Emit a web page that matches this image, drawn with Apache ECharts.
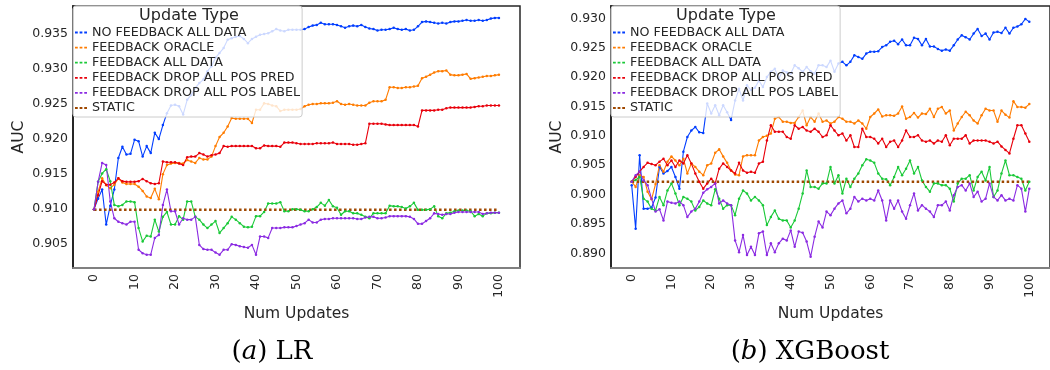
<!DOCTYPE html>
<html>
<head>
<meta charset="utf-8">
<script src="https://cdn.jsdelivr.net/npm/echarts@6/dist/echarts.min.js"></script>
<style>
  html, body { margin: 0; padding: 0; background: #fff; }
  #chart { width: 1050px; height: 370px; }
</style>
</head>
<body>
<div id="chart"></div>
<script>
// x positions: update number 0..100
const numUpdates = Array.from({ length: 101 }, (_, i) => i)
const xTicks = [0, 10, 20, 30, 40, 50, 60, 70, 80, 90, 100]
const lrTicks = [0.905, 0.910, 0.915, 0.920, 0.925, 0.930, 0.935]
const xgbTicks = [0.890, 0.895, 0.900, 0.905, 0.910, 0.915, 0.920, 0.925, 0.930]

const seriesNames = ['NO FEEDBACK ALL DATA', 'FEEDBACK ORACLE', 'FEEDBACK ALL DATA',
  'FEEDBACK DROP ALL POS PRED', 'FEEDBACK DROP ALL POS LABEL', 'STATIC']

// (a) LR
const lrNoFeedback = [0.9100, 0.9115, 0.9128, 0.9078, 0.9105, 0.9128, 0.9173, 0.9189, 0.9178, 0.9179,
  0.9199, 0.9197, 0.9175, 0.9190, 0.9180, 0.9209, 0.9200, 0.9220, 0.9237, 0.9248,
  0.9249, 0.9247, 0.9235, 0.9256, 0.9263, 0.9273, 0.9280, 0.9285, 0.9297, 0.9304,
  0.9316, 0.9323, 0.9330, 0.9342, 0.9344, 0.9346, 0.9347, 0.9343, 0.9337, 0.9343,
  0.9346, 0.9349, 0.9350, 0.9351, 0.9354, 0.9357, 0.9355, 0.9354, 0.9356, 0.9356,
  0.9356, 0.9356, 0.9357, 0.9360, 0.9362, 0.9363, 0.9366, 0.9364, 0.9364, 0.9364,
  0.9363, 0.9361, 0.9359, 0.9361, 0.9362, 0.9361, 0.9363, 0.9360, 0.9358, 0.9357,
  0.9355, 0.9356, 0.9356, 0.9357, 0.9359, 0.9357, 0.9356, 0.9357, 0.9355, 0.9356,
  0.9361, 0.9367, 0.9368, 0.9367, 0.9366, 0.9365, 0.9366, 0.9365, 0.9367, 0.9368,
  0.9368, 0.9369, 0.9370, 0.9369, 0.9369, 0.9370, 0.9369, 0.9370, 0.9372, 0.9373, 0.9373]
const lrOracle = [0.9100, 0.9125, 0.9144, 0.9134, 0.9130, 0.9135, 0.9144, 0.9138, 0.9136, 0.9136,
  0.9136, 0.9132, 0.9126, 0.9118, 0.9116, 0.9129, 0.9114, 0.9150, 0.9163, 0.9165,
  0.9166, 0.9166, 0.9165, 0.9170, 0.9168, 0.9166, 0.9173, 0.9171, 0.9171, 0.9175,
  0.9190, 0.9203, 0.9209, 0.9218, 0.9230, 0.9229, 0.9229, 0.9229, 0.9229, 0.9223,
  0.9242, 0.9242, 0.9251, 0.9250, 0.9248, 0.9247, 0.9240, 0.9242, 0.9242, 0.9242,
  0.9242, 0.9243, 0.9247, 0.9249, 0.9250, 0.9250, 0.9251, 0.9251, 0.9251, 0.9252,
  0.9254, 0.9250, 0.9249, 0.9250, 0.9249, 0.9248, 0.9248, 0.9248, 0.9252, 0.9254,
  0.9254, 0.9254, 0.9256, 0.9274, 0.9274, 0.9273, 0.9273, 0.9274, 0.9274, 0.9275,
  0.9276, 0.9287, 0.9289, 0.9292, 0.9295, 0.9297, 0.9297, 0.9298, 0.9292, 0.9291,
  0.9291, 0.9292, 0.9293, 0.9286, 0.9287, 0.9288, 0.9289, 0.9290, 0.9290, 0.9291, 0.9292]
const lrAllData = [0.9100, 0.9139, 0.9151, 0.9157, 0.9140, 0.9106, 0.9104, 0.9106, 0.9111, 0.9111,
  0.9110, 0.9073, 0.9054, 0.9062, 0.9061, 0.9085, 0.9068, 0.9089, 0.9096, 0.9078,
  0.9078, 0.9090, 0.9085, 0.9111, 0.9111, 0.9089, 0.9085, 0.9078, 0.9073, 0.9078,
  0.9083, 0.9066, 0.9073, 0.9080, 0.9089, 0.9085, 0.9080, 0.9075, 0.9074, 0.9075,
  0.9090, 0.9090, 0.9096, 0.9108, 0.9108, 0.9108, 0.9110, 0.9097, 0.9097, 0.9100,
  0.9100, 0.9099, 0.9097, 0.9097, 0.9100, 0.9103, 0.9109, 0.9105, 0.9113, 0.9104,
  0.9102, 0.9092, 0.9097, 0.9097, 0.9094, 0.9094, 0.9092, 0.9089, 0.9087, 0.9094,
  0.9094, 0.9094, 0.9094, 0.9105, 0.9104, 0.9104, 0.9103, 0.9101, 0.9104, 0.9109,
  0.9099, 0.9099, 0.9099, 0.9100, 0.9104, 0.9090, 0.9087, 0.9094, 0.9095, 0.9097,
  0.9098, 0.9098, 0.9098, 0.9097, 0.9090, 0.9093, 0.9090, 0.9094, 0.9094, 0.9095, 0.9095]
const lrDropPred = [0.9100, 0.9120, 0.9140, 0.9135, 0.9135, 0.9138, 0.9144, 0.9140, 0.9139, 0.9139,
  0.9139, 0.9140, 0.9143, 0.9140, 0.9137, 0.9136, 0.9137, 0.9168, 0.9167, 0.9167,
  0.9167, 0.9165, 0.9163, 0.9174, 0.9175, 0.9175, 0.9180, 0.9178, 0.9175, 0.9177,
  0.9178, 0.9180, 0.9190, 0.9189, 0.9190, 0.9190, 0.9190, 0.9190, 0.9190, 0.9190,
  0.9187, 0.9187, 0.9191, 0.9190, 0.9190, 0.9190, 0.9189, 0.9195, 0.9195, 0.9195,
  0.9194, 0.9193, 0.9193, 0.9193, 0.9193, 0.9194, 0.9194, 0.9194, 0.9194, 0.9195,
  0.9193, 0.9193, 0.9193, 0.9193, 0.9192, 0.9192, 0.9193, 0.9194, 0.9222, 0.9222,
  0.9222, 0.9222, 0.9221, 0.9220, 0.9220, 0.9220, 0.9220, 0.9220, 0.9220, 0.9220,
  0.9218, 0.9241, 0.9241, 0.9241, 0.9241, 0.9242, 0.9242, 0.9244, 0.9245, 0.9245,
  0.9245, 0.9245, 0.9245, 0.9245, 0.9246, 0.9247, 0.9247, 0.9248, 0.9248, 0.9248, 0.9248]
const lrDropLabel = [0.9100, 0.9139, 0.9166, 0.9163, 0.9111, 0.9087, 0.9082, 0.9080, 0.9078, 0.9082,
  0.9082, 0.9042, 0.9037, 0.9035, 0.9035, 0.9059, 0.9063, 0.9106, 0.9128, 0.9097,
  0.9097, 0.9078, 0.9087, 0.9085, 0.9085, 0.9089, 0.9049, 0.9043, 0.9042, 0.9042,
  0.9038, 0.9035, 0.9042, 0.9042, 0.9050, 0.9049, 0.9047, 0.9046, 0.9045, 0.9049,
  0.9035, 0.9061, 0.9061, 0.9059, 0.9073, 0.9073, 0.9073, 0.9074, 0.9074, 0.9074,
  0.9076, 0.9078, 0.9080, 0.9085, 0.9081, 0.9081, 0.9085, 0.9086, 0.9086, 0.9087,
  0.9087, 0.9087, 0.9087, 0.9087, 0.9087, 0.9086, 0.9086, 0.9088, 0.9089, 0.9089,
  0.9087, 0.9087, 0.9088, 0.9090, 0.9090, 0.9090, 0.9090, 0.9090, 0.9089, 0.9086,
  0.9079, 0.9079, 0.9083, 0.9087, 0.9094, 0.9093, 0.9092, 0.9093, 0.9093, 0.9095,
  0.9096, 0.9096, 0.9096, 0.9096, 0.9096, 0.9096, 0.9093, 0.9094, 0.9095, 0.9095, 0.9095]
const lrStatic = 0.9099

// (b) XGBoost
const xgbNoFeedback = [0.9016, 0.8942, 0.9067, 0.8976, 0.8976, 0.8978, 0.8995, 0.9047, 0.9036, 0.9040,
  0.9047, 0.9030, 0.9010, 0.9073, 0.9098, 0.9109, 0.9115, 0.9106, 0.9105, 0.9155,
  0.9138, 0.9152, 0.9135, 0.9152, 0.9140, 0.9127, 0.9160, 0.9180, 0.9160, 0.9186,
  0.9178, 0.9182, 0.9194, 0.9183, 0.9200, 0.9209, 0.9214, 0.9197, 0.9211, 0.9208,
  0.9206, 0.9220, 0.9215, 0.9209, 0.9217, 0.9210, 0.9206, 0.9220, 0.9220, 0.9217,
  0.9228, 0.9209, 0.9223, 0.9226, 0.9220, 0.9226, 0.9237, 0.9234, 0.9231, 0.9240,
  0.9243, 0.9243, 0.9244, 0.9251, 0.9254, 0.9260, 0.9262, 0.9256, 0.9264, 0.9254,
  0.9254, 0.9267, 0.9265, 0.9254, 0.9265, 0.9252, 0.9252, 0.9248, 0.9245, 0.9247,
  0.9245, 0.9254, 0.9264, 0.9271, 0.9268, 0.9264, 0.9274, 0.9282, 0.9270, 0.9274,
  0.9264, 0.9276, 0.9277, 0.9275, 0.9284, 0.9274, 0.9284, 0.9286, 0.9290, 0.9299, 0.9294]
const xgbOracle = [0.9022, 0.9013, 0.9033, 0.9030, 0.9005, 0.8992, 0.9018, 0.9050, 0.9039, 0.9056,
  0.9065, 0.9058, 0.9050, 0.9061, 0.9036, 0.9053, 0.9047, 0.9039, 0.9033, 0.9050,
  0.9053, 0.9071, 0.9077, 0.9065, 0.9054, 0.9041, 0.9034, 0.9033, 0.9065, 0.9067,
  0.9067, 0.9067, 0.9092, 0.9098, 0.9100, 0.9104, 0.9129, 0.9132, 0.9124, 0.9124,
  0.9122, 0.9122, 0.9132, 0.9143, 0.9118, 0.9132, 0.9124, 0.9138, 0.9124, 0.9126,
  0.9121, 0.9124, 0.9132, 0.9129, 0.9124, 0.9124, 0.9121, 0.9126, 0.9121, 0.9112,
  0.9132, 0.9138, 0.9145, 0.9133, 0.9135, 0.9135, 0.9134, 0.9138, 0.9150, 0.9129,
  0.9132, 0.9139, 0.9131, 0.9138, 0.9137, 0.9146, 0.9132, 0.9146, 0.9149, 0.9138,
  0.9143, 0.9109, 0.9121, 0.9132, 0.9141, 0.9135, 0.9126, 0.9121, 0.9135, 0.9146,
  0.9143, 0.9143, 0.9124, 0.9143, 0.9136, 0.9131, 0.9159, 0.9149, 0.9149, 0.9148, 0.9154]
const xgbAllData = [0.9022, 0.9025, 0.9030, 0.8993, 0.8988, 0.8976, 0.8973, 0.8996, 0.8982, 0.9007,
  0.9019, 0.9002, 0.8982, 0.8996, 0.8993, 0.8988, 0.8973, 0.8979, 0.8990, 0.8985,
  0.8982, 0.9009, 0.8993, 0.8976, 0.8982, 0.8982, 0.8965, 0.8993, 0.9007, 0.9002,
  0.8990, 0.8996, 0.8990, 0.8982, 0.8948, 0.8962, 0.8973, 0.8959, 0.8956, 0.8956,
  0.8944, 0.8956, 0.8976, 0.9002, 0.9041, 0.9013, 0.9013, 0.9010, 0.9019, 0.9019,
  0.9047, 0.9019, 0.9033, 0.9002, 0.9027, 0.9013, 0.9027, 0.9036, 0.9050, 0.9060,
  0.9058, 0.9054, 0.9036, 0.9027, 0.9026, 0.9016, 0.9030, 0.9047, 0.9033, 0.9044,
  0.9058, 0.9036, 0.9047, 0.9024, 0.9013, 0.9005, 0.9019, 0.9019, 0.9016, 0.9016,
  0.9010, 0.8988, 0.9019, 0.9027, 0.9027, 0.9033, 0.9007, 0.9030, 0.9039, 0.9024,
  0.9047, 0.8996, 0.9007, 0.9036, 0.9058, 0.9033, 0.9033, 0.9030, 0.9027, 0.9007, 0.9022]
const xgbDropPred = [0.9022, 0.9030, 0.9039, 0.9047, 0.9054, 0.9052, 0.9050, 0.9056, 0.9061, 0.9050,
  0.9058, 0.9047, 0.9058, 0.9053, 0.9067, 0.9053, 0.9036, 0.9022, 0.9010, 0.9019,
  0.9027, 0.9019, 0.9044, 0.9053, 0.9047, 0.9041, 0.9036, 0.9054, 0.9041, 0.9037,
  0.9039, 0.9037, 0.9053, 0.9056, 0.9092, 0.9118, 0.9107, 0.9107, 0.9107, 0.9098,
  0.9095, 0.9118, 0.9112, 0.9115, 0.9109, 0.9107, 0.9112, 0.9107, 0.9098, 0.9101,
  0.9118, 0.9109, 0.9101, 0.9104, 0.9092, 0.9101, 0.9081, 0.9081, 0.9112, 0.9098,
  0.9098, 0.9095, 0.9087, 0.9095, 0.9081, 0.9090, 0.9092, 0.9081, 0.9092, 0.9109,
  0.9098, 0.9098, 0.9101, 0.9092, 0.9090, 0.9092, 0.9087, 0.9092, 0.9090, 0.9101,
  0.9084, 0.9095, 0.9095, 0.9095, 0.9101, 0.9087, 0.9092, 0.9092, 0.9092, 0.9092,
  0.9090, 0.9087, 0.9090, 0.9082, 0.9076, 0.9070, 0.9095, 0.9118, 0.9118, 0.9104, 0.9090]
const xgbDropLabel = [0.9022, 0.9033, 0.9039, 0.9024, 0.9016, 0.8993, 0.8971, 0.8975, 0.8956, 0.8988,
  0.8986, 0.8985, 0.8988, 0.8982, 0.8962, 0.8971, 0.8976, 0.8988, 0.9003, 0.9009,
  0.9013, 0.9019, 0.8985, 0.8990, 0.8985, 0.8982, 0.8922, 0.8902, 0.8931, 0.8897,
  0.8911, 0.8897, 0.8934, 0.8937, 0.8897, 0.8917, 0.8902, 0.8917, 0.8925, 0.8922,
  0.8939, 0.8911, 0.8937, 0.8935, 0.8920, 0.8894, 0.8928, 0.8954, 0.8944, 0.8971,
  0.8965, 0.8976, 0.8985, 0.8990, 0.8968, 0.8976, 0.8996, 0.8988, 0.8993, 0.8990,
  0.8993, 0.8990, 0.9007, 0.8990, 0.8956, 0.8990, 0.8976, 0.8990, 0.8971, 0.8959,
  0.8982, 0.9002, 0.8973, 0.8982, 0.8976, 0.8971, 0.8962, 0.8982, 0.8982, 0.8988,
  0.8973, 0.8999, 0.9013, 0.9016, 0.9007, 0.9019, 0.8996, 0.9005, 0.8988, 0.8993,
  0.9019, 0.8996, 0.8990, 0.8999, 0.8990, 0.8993, 0.8990, 0.9016, 0.9010, 0.8971, 0.9010]
const xgbStatic = 0.9022

const colors = ['#023eff', '#ff7c00', '#1ac938', '#e8000b', '#8b2be2', '#9f4800']
const FONT = 'DejaVu Sans'
const TEXT = '#262626'
const dashIcon = 'path://M0,0h3v2h-3z M5,0h3v2h-3z M10,0h3v2h-3z'

function lineSeries (idx, name, values, color) {
  return {
    type: 'line',
    name: name,
    xAxisIndex: idx,
    yAxisIndex: idx,
    data: values.map((v, i) => [numUpdates[i], v]),
    symbol: 'circle',
    symbolSize: 2.5,
    showSymbol: true,
    itemStyle: { color: color },
    lineStyle: { color: color, width: 1.1 },
    emphasis: { disabled: true }
  }
}

function staticSeries (idx, value) {
  return {
    type: 'line',
    name: 'STATIC',
    xAxisIndex: idx,
    yAxisIndex: idx,
    data: [[numUpdates[0], value], [numUpdates[100], value]],
    showSymbol: false,
    itemStyle: { color: colors[5] },
    lineStyle: { color: colors[5], width: 2.5, type: 'dotted' },
    z: 3
  }
}

function groupSeries (idx, arrs, staticVal) {
  const out = arrs.map((a, k) => lineSeries(idx, seriesNames[k], a, colors[k]))
  out.push(staticSeries(idx, staticVal))
  return out
}

function xAxis (idx) {
  return {
    type: 'value', gridIndex: idx, min: -5.2, max: 105.2,
    name: 'Num Updates', nameLocation: 'middle', nameGap: 29,
    nameTextStyle: { fontFamily: FONT, fontSize: 15.5, color: TEXT },
    axisLine: { onZero: false, lineStyle: { color: '#808080', width: 2 } },
    axisTick: { show: false },
    splitLine: { show: false },
    axisLabel: {
      customValues: xTicks, rotate: 90, margin: 6,
      fontFamily: FONT, fontSize: 12.5, color: TEXT
    }
  }
}

function yAxis (idx, min, max, ticks) {
  return {
    type: 'value', gridIndex: idx, min: min, max: max,
    name: 'AUC', nameLocation: 'middle', nameGap: 46, nameRotate: 90,
    nameTextStyle: { fontFamily: FONT, fontSize: 15.5, color: TEXT },
    axisLine: { show: true, onZero: false, lineStyle: { color: '#262626', width: 2 } },
    axisTick: { show: false },
    splitLine: { show: false },
    axisLabel: {
      customValues: ticks, margin: 5,
      fontFamily: FONT, fontSize: 12.5, color: TEXT,
      formatter: v => v.toFixed(3)
    }
  }
}

function legend (left) {
  return {
    data: seriesNames,
    orient: 'vertical',
    left: left, top: 6,
    icon: dashIcon,
    itemWidth: 12, itemHeight: 13, itemGap: 2.1,
    padding: [20, 2, 2.5, 2],
    backgroundColor: 'rgba(255,255,255,0.8)',
    borderColor: '#cccccc', borderWidth: 1, borderRadius: 3,
    textStyle: { fontFamily: FONT, fontSize: 12.7, color: TEXT, lineHeight: 13 },
    selectedMode: false
  }
}

function legendTitle (x) {
  return {
    text: 'Update Type', left: x, top: 7.5, textAlign: 'center', padding: 0,
    textStyle: { fontFamily: FONT, fontSize: 16, fontWeight: 'normal', color: TEXT }
  }
}

function caption (x, tag, label) {
  return {
    text: '(' + '{i|' + tag + '}) ' + label,
    left: x, top: 339, textAlign: 'center', padding: 0,
    textStyle: {
      fontFamily: 'DejaVu Serif', fontSize: 26, fontWeight: 'normal', color: '#000',
      rich: { i: { fontFamily: 'DejaVu Serif', fontSize: 26, fontStyle: 'italic', color: '#000' } }
    }
  }
}

const chart = echarts.init(document.getElementById('chart'), null, { renderer: 'canvas' })
chart.setOption({
  animation: false,
  backgroundColor: '#ffffff',
  title: [
    legendTitle(189), legendTitle(726),
    caption(272, 'a', 'LR'), caption(810, 'b', 'XGBoost')
  ],
  legend: [legend(73), legend(611)],
  grid: [
    { left: 73, top: 6, width: 447, height: 262, show: true, borderColor: '#262626', borderWidth: 1.5, backgroundColor: 'transparent' },
    { left: 611, top: 6, width: 447, height: 262, show: true, borderColor: '#262626', borderWidth: 1.5, backgroundColor: 'transparent' }
  ],
  xAxis: [xAxis(0), xAxis(1)],
  yAxis: [yAxis(0, 0.9016, 0.9390, lrTicks), yAxis(1, 0.8875, 0.9321, xgbTicks)],
  series: [
    ...groupSeries(0, [lrNoFeedback, lrOracle, lrAllData, lrDropPred, lrDropLabel], lrStatic),
    ...groupSeries(1, [xgbNoFeedback, xgbOracle, xgbAllData, xgbDropPred, xgbDropLabel], xgbStatic)
  ]
})
</script>
</body>
</html>
